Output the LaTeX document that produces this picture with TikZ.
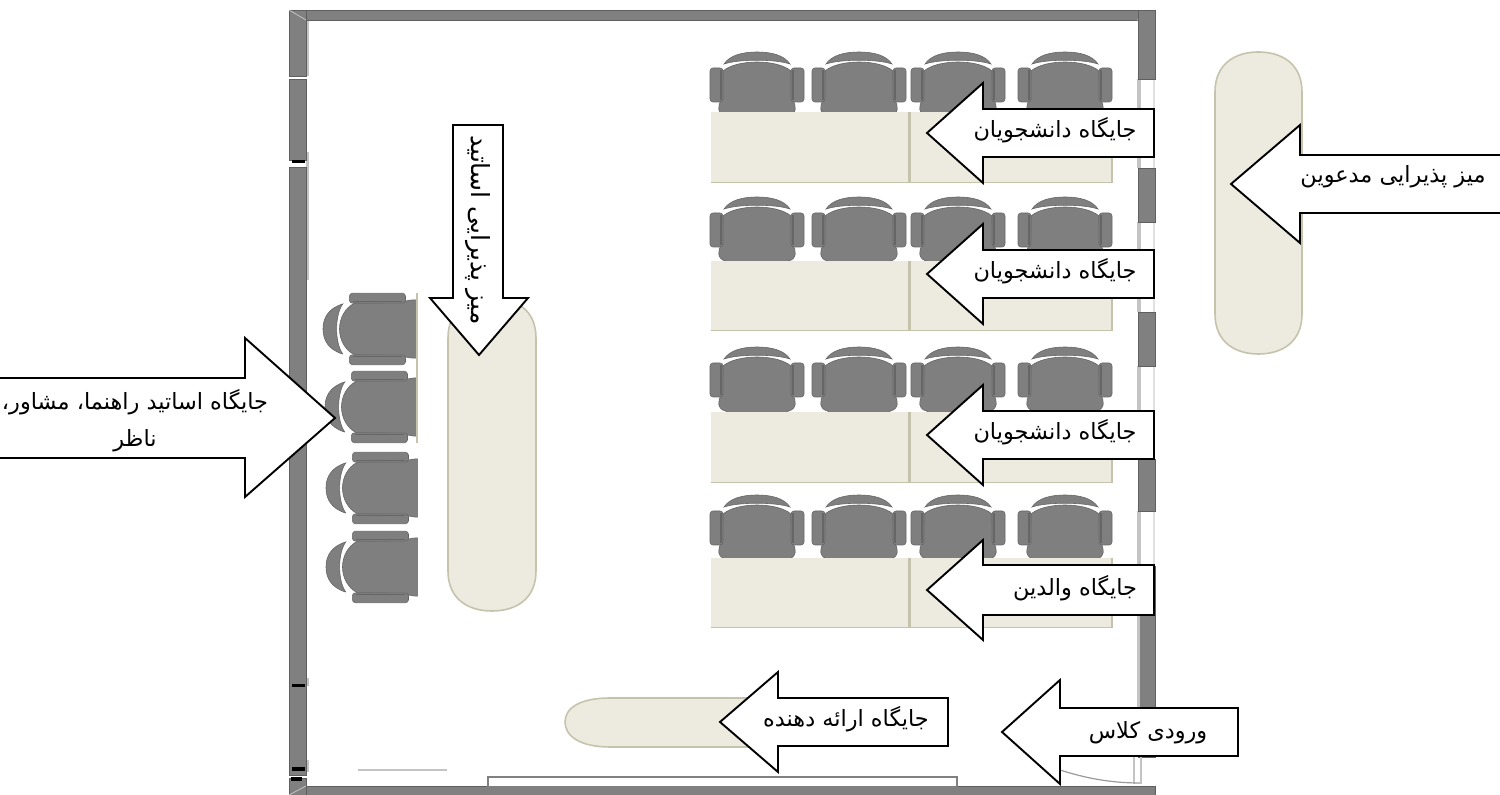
\documentclass[tikz,border=0pt]{standalone}
\usepackage{fontspec}
\usepackage{xcolor}
\newfontfamily\arabicfont[Script=Arabic]{DejaVu Sans}
\TeXXeTstate=1
\usetikzlibrary{positioning}

\definecolor{wallgray}{HTML}{808080}
\definecolor{wallline}{HTML}{5F5F5F}
\definecolor{windowgray}{HTML}{C4C4C4}
\definecolor{chairgray}{HTML}{7F7F7F}
\definecolor{chairline}{HTML}{666666}
\definecolor{tablefill}{HTML}{EDEBE0}
\definecolor{tableline}{HTML}{C6C3AD}

\newcommand{\fa}[1]{\beginR #1\endR}

\tikzset{
  wall/.style={fill=wallgray, draw=wallline, line width=.4pt},
  tabletop/.style={fill=tablefill, draw=tableline, line width=.8pt},
  callout/.style={fill=white, draw=black, line width=.95pt, line join=miter},
  calloutlabel/.style={font=\arabicfont\fontsize{11.2}{18.5}\selectfont, align=center, inner sep=0pt},
  chairpart/.style={fill=chairgray, draw=chairline, line width=.3pt},
  chair/.pic={
    % back rest
    \path[chairpart] (-33,12) .. controls (-27,3) and (-14,0) .. (0,0)
      .. controls (14,0) and (27,3) .. (33,12) .. controls (18,7) and (-18,7) .. cycle;
    % seat
    \path[chairpart] (-34,19) .. controls (-20,7) and (20,7) .. (34,19)
      -- (35,48) .. controls (40,52) and (40,63) .. (31,64) -- (31,72) -- (-31,72) -- (-31,64)
      .. controls (-40,63) and (-40,52) .. (-35,48) -- cycle;
    % arm rests
    \foreach \side in {-1,1}{
      \path[chairpart, rounded corners=1.5pt] (\side*34,16) rectangle (\side*47,50);
      \draw[chairline, line width=.6pt] (\side*36,18) -- (\side*36,48);
    }
  }
}

\begin{document}
\begin{tikzpicture}[x=.5pt, y=-.5pt]
  \useasboundingbox (0,0) rectangle (1500,795);
  \clip (0,0) rectangle (1500,795);

  % Room walls
  \fill[windowgray] (306,20) rectangle (309,76);
  \fill[windowgray] (306,152) rectangle (309,280);
  \fill[windowgray] (306,678) rectangle (309,686);
  \fill[windowgray] (306,760) rectangle (309,772);
  \draw[wall] (289,10) rectangle (1155,20);
  \draw[wall] (289,786) rectangle (1155,795);
  \foreach \ya/\yb in {10/76,79/160,167/775,778/795}{
    \draw[wall] (289,\ya) rectangle (306,\yb);
  }
  \fill[wallgray] (290,785) rectangle (306,795);
  \draw[windowgray, line width=.4pt] (289,10) -- (306,20);
  \draw[windowgray, line width=.4pt] (289,795) -- (306,786);
  \draw[windowgray, line width=.4pt] (1155,10) -- (1137,20);
  \fill[black] (292,160) rectangle (305,163);
  \fill[black] (292,684) rectangle (305,687);
  \fill[black] (292,767) rectangle (305,771);
  \fill[black] (291,777) rectangle (302,781);
  \draw[windowgray, line width=.6pt] (358,770) -- (447,770);

  % Right wall with its windows
  \foreach \ya/\yb in {79/168,222/312,366/459,511/566}{
    \fill[windowgray] (1137,\ya) rectangle (1141,\yb);
    \fill[windowgray!50] (1153,\ya) rectangle (1155,\yb);
  }
  \foreach \ya/\yb in {10/79,168/222,312/366,459/511,566/757}{
    \draw[wall] (1138,\ya) rectangle (1155,\yb);
  }
  \fill[windowgray] (1137,566) rectangle (1140,757);

  % Door
  \draw[windowgray, line width=1.2pt] (1134,757) -- (1134,784);
  \draw[windowgray, line width=1.2pt] (1141,757) -- (1141,784);
  \draw[wallgray!80, line width=.6pt] (1060,770) .. controls (1085,778) and (1110,783) .. (1140,783);

  % Front strip
  \draw[wallgray, fill=white, line width=.8pt] (488,777) rectangle (957,787);

  % Student rows
  \foreach \toprow/\desktop/\deskbottom in {52/112/183,197/261/331,347/412/483,495/558/628}{
    \foreach \cx in {757,859,958,1065}{
      \pic at (\cx,\toprow) {chair};
    }
    \fill[tablefill] (711,\desktop) rectangle (1113,\deskbottom);
    \fill[tableline] (908,\desktop) rectangle (911,\deskbottom);
    \fill[tableline] (711,\deskbottom-1) rectangle (908,\deskbottom);
    \fill[tableline] (911,\deskbottom-1) rectangle (1113,\deskbottom);
    \fill[tableline] (1111,\desktop) rectangle (1113,\deskbottom);
  }

  % Teachers' chairs
  \foreach \ypos/\xpos in {329/323,407/325,488/326,567/326}{
    \pic[rotate=90, xscale=.76, yscale=1.65] at (\xpos,\ypos) {chair};
  }
  \fill[white] (417.5,285) rectangle (446,612);
  \draw[tableline, line width=.7pt] (417,293) -- (417,443);

  % Round tables
  \foreach \xa/\xb/\ya/\yb in {448/536/298/611,1215/1302/52/354}{
    \pgfmathsetmacro{\xm}{(\xa+\xb)/2}
    \draw[tabletop] (\xa,\ya+40) .. controls (\xa,\ya+12) and (\xa+20,\ya) .. (\xm,\ya)
      .. controls (\xb-20,\ya) and (\xb,\ya+12) .. (\xb,\ya+40)
      -- (\xb,\yb-40) .. controls (\xb,\yb-12) and (\xb-20,\yb) .. (\xm,\yb)
      .. controls (\xa+20,\yb) and (\xa,\yb-12) .. (\xa,\yb-40) -- cycle;
  }
  \draw[tabletop] (770,698) -- (610,698) .. controls (580,698) and (565,708) .. (565,722)
    .. controls (565,736) and (580,747) .. (610,747) -- (770,747);

  % Left pointing callouts
  \foreach \name/\tipx/\headx/\endx/\cy/\shaft/\head/\labelx/\labely/\words in {
    studentsa/927/983/1154/133/24/50/1055/130/{جایگاه دانشجویان},
    studentsb/927/983/1154/274/24/50/1055/271/{جایگاه دانشجویان},
    studentsc/927/983/1154/435/24/50/1055/432/{جایگاه دانشجویان},
    parents/927/983/1154/590/25/50/1075/588/{جایگاه والدین},
    presenter/720/778/948/722/24/50/846/719/{جایگاه ارائه دهنده},
    entrance/1002/1060/1238/732/24/52/1148/733/{ورودی کلاس},
    guests/1231/1300/1510/184/29/59/1393/177/{میز پذیرایی مدعوین}}{
    \draw[callout] (\tipx,\cy) -- (\headx,\cy-\head) -- (\headx,\cy-\shaft) -- (\endx,\cy-\shaft)
      -- (\endx,\cy+\shaft) -- (\headx,\cy+\shaft) -- (\headx,\cy+\head) -- cycle;
    \node[calloutlabel] (\name) at (\labelx,\labely) {\fa{\words}};
  }

  % Right pointing callout for the supervisors
  \draw[callout] (335,418) -- (245,338) -- (245,378) -- (-10,378) -- (-10,458) -- (245,458)
    -- (245,497) -- cycle;
  \node[calloutlabel] (supervisors) at (135,421) {\fa{جایگاه اساتید راهنما، مشاور،}\\\fa{ناظر}};

  % Downward callout for the teachers' table
  \draw[callout] (479,355) -- (430,298) -- (453,298) -- (453,125) -- (503,125) -- (503,298)
    -- (528,298) -- cycle;
  \node[calloutlabel, font=\arabicfont\fontsize{12.5}{15}\selectfont, rotate=-90] (teachers) at (478,230) {\fa{میز پذیرایی اساتید}};
\end{tikzpicture}
\end{document}
